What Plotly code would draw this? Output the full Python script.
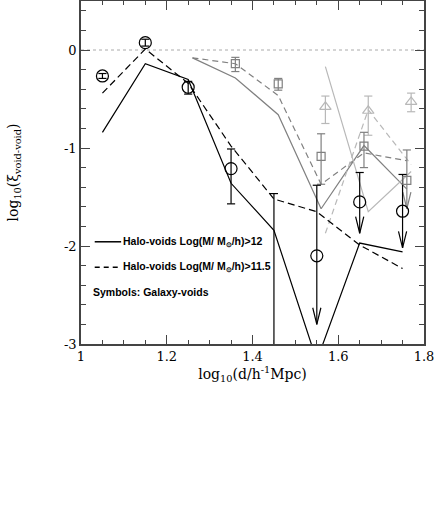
import plotly.graph_objects as go

# ---------------- data ----------------
x_halo = [1.05, 1.15, 1.25, 1.35, 1.45, 1.55, 1.65, 1.75]
halo_gt12 = [-0.84, -0.14, -0.30, -1.36, -1.84, -3.17, -1.97, -2.06]
halo_gt115 = [-0.44, 0.01, -0.34, -0.98, -1.52, -1.65, -1.99, -2.23]

x_gal = [1.05, 1.15, 1.25, 1.35, 1.45, 1.55, 1.65, 1.75]
gal = [-0.265, 0.075, -0.38, -1.21, None, -2.10, -1.55, -1.645]
gal_hi = [-0.24, 0.11, -0.32, -1.01, -1.465, -1.38, -1.25, -1.27]
gal_lo = [-0.29, 0.04, -0.45, -1.57, -3.5, -2.80, -1.87, -2.02]
gal_limit = [False, False, False, False, False, True, True, True]

x_grey = [1.26, 1.36, 1.46, 1.56, 1.66, 1.76]
grey_solid = [-0.08, -0.285, -0.66, -1.62, -0.975, -1.42]
grey_dash = [-0.08, -0.14, -0.465, -1.37, -1.05, -1.13]

x_sq = [1.36, 1.46, 1.56, 1.66, 1.76]
sq = [-0.14, -0.345, -1.085, -0.98, -1.33]
sq_hi = [-0.075, -0.29, -0.855, -0.84, -1.02]
sq_lo = [-0.22, -0.41, -1.37, -1.20, -1.62]
sq_limit = [False, False, False, False, True]

x_light = [1.57, 1.67, 1.77]
light_solid = [-0.17, -1.65, -1.24]
light_dash = [-1.87, -0.61, -1.17]

x_tri = [1.57, 1.67, 1.77]
tri = [-0.58, -0.62, -0.53]
tri_hi = [-0.47, -0.47, -0.44]
tri_lo = [-0.75, -0.87, -0.63]
tri_limit = [False, False, False]

xticks = [1.0, 1.2, 1.4, 1.6, 1.8]
xticklabels = ["1", "1.2", "1.4", "1.6", "1.8"]
yticks = [-3, -2, -1, 0]
yticklabels = ["-3", "-2", "-1", "0"]

# ---------------- style ----------------
BLACK = "#000000"
DARK = "#808080"
LIGHT = "#b8b8b8"
CAP = 0.0095      # half cap width (x units)
AHW = 0.0095      # arrow half width
AHH = 0.17        # arrow head height (y units)


def errbars(xs, hi, lo, limit):
    ex, ey = [], []
    for x, h, l, lim in zip(xs, hi, lo, limit):
        ex += [x, x, None, x - CAP, x + CAP, None]
        ey += [h, l, None, h, h, None]
        if lim:
            ex += [x - AHW, x, x + AHW, None]
            ey += [l + AHH, l, l + AHH, None]
        else:
            ex += [x - CAP, x + CAP, None]
            ey += [l, l, None]
    return ex, ey


fig = go.Figure()

# model lines
fig.add_trace(go.Scatter(x=x_grey, y=grey_solid, mode="lines",
                         line=dict(color=DARK, width=1.2)))
fig.add_trace(go.Scatter(x=x_grey, y=grey_dash, mode="lines",
                         line=dict(color=DARK, width=1.2, dash="6px,4px")))
fig.add_trace(go.Scatter(x=x_light, y=light_solid, mode="lines",
                         line=dict(color=LIGHT, width=1.2)))
fig.add_trace(go.Scatter(x=x_light, y=light_dash, mode="lines",
                         line=dict(color=LIGHT, width=1.2, dash="6px,4px")))
fig.add_trace(go.Scatter(x=x_halo, y=halo_gt12, mode="lines",
                         line=dict(color=BLACK, width=1.2)))
fig.add_trace(go.Scatter(x=x_halo, y=halo_gt115, mode="lines",
                         line=dict(color=BLACK, width=1.2, dash="7px,4px")))

# error bars
for xs, hi, lo, lim, col in [(x_tri, tri_hi, tri_lo, tri_limit, LIGHT),
                             (x_sq, sq_hi, sq_lo, sq_limit, DARK),
                             (x_gal, gal_hi, gal_lo, gal_limit, BLACK)]:
    ex, ey = errbars(xs, hi, lo, lim)
    fig.add_trace(go.Scatter(x=ex, y=ey, mode="lines",
                             line=dict(color=col, width=1.2)))

# symbols
fig.add_trace(go.Scatter(x=x_tri, y=tri, mode="markers",
                         marker=dict(symbol="triangle-up-open", size=10,
                                     color=LIGHT, line=dict(width=1.2))))
fig.add_trace(go.Scatter(x=x_sq, y=sq, mode="markers",
                         marker=dict(symbol="square-open", size=8,
                                     color=DARK, line=dict(width=1.2))))
fig.add_trace(go.Scatter(x=x_gal, y=gal, mode="markers",
                         marker=dict(symbol="circle-open", size=12,
                                     color=BLACK, line=dict(width=1.2))))

# dotted zero line
fig.add_shape(type="line", xref="paper", x0=0, x1=1, yref="y", y0=0, y1=0,
              line=dict(color="#aaaaaa", width=1, dash="dot"), layer="below")

# legend (drawn by hand)
LEG_FONT = dict(family="Liberation Sans, Arial, sans-serif", size=10.5, color="black")
fig.add_shape(type="line", xref="paper", yref="paper", x0=0.04, x1=0.117,
              y0=0.298, y1=0.298, line=dict(color="black", width=1.5))
fig.add_shape(type="line", xref="paper", yref="paper", x0=0.04, x1=0.117,
              y0=0.224, y1=0.224, line=dict(color="black", width=1.5, dash="5px,4px"))
fig.add_annotation(xref="paper", yref="paper", x=0.117, y=0.298, xanchor="left",
                   yanchor="middle", showarrow=False,
                   text="<b>Halo-voids Log(M/ M<sub>⊙</sub>/h)>12</b>", font=LEG_FONT)
fig.add_annotation(xref="paper", yref="paper", x=0.117, y=0.224, xanchor="left",
                   yanchor="middle", showarrow=False,
                   text="<b>Halo-voids Log(M/ M<sub>⊙</sub>/h)>11.5</b>", font=LEG_FONT)
fig.add_annotation(xref="paper", yref="paper", x=0.030, y=0.153, xanchor="left",
                   yanchor="middle", showarrow=False,
                   text="<b>Symbols: Galaxy-voids</b>", font=LEG_FONT)

SERIF = "DejaVu Serif, Liberation Serif, serif"
axis_common = dict(showline=True, linecolor="#444444", linewidth=1.5, mirror="ticks",
                   ticks="inside", tickcolor="#444444", tickwidth=1, ticklen=9,
                   showgrid=False, zeroline=False, automargin=False,
                   tickfont=dict(family=SERIF, size=13, color="black"))

fig.update_layout(
    width=436, height=520,
    margin=dict(l=81, r=12, t=1, b=176),
    paper_bgcolor="white", plot_bgcolor="white",
    showlegend=False,
    xaxis=dict(range=[1, 1.8], tickvals=xticks, ticktext=xticklabels,
               minor=dict(dtick=0.05, ticklen=4, ticks="inside", tickcolor="#444444"),
               title=dict(text="log<sub>10</sub>(d/h<sup>-1</sup>Mpc)",
                          font=dict(family=SERIF, size=14, color="black"), standoff=6),
               **axis_common),
    yaxis=dict(range=[-3, 0.5], tickvals=yticks, ticktext=yticklabels,
               minor=dict(dtick=0.2, ticklen=5, ticks="inside", tickcolor="#444444"),
               title=dict(text="log<sub>10</sub>(ξ<sub>void-void</sub>)",
                          font=dict(family=SERIF, size=14, color="black"), standoff=42),
               **axis_common),
)

fig.write_html("out.html",
               config={"displayModeBar": False},
               post_script="document.body.style.margin='0px';document.body.style.overflow='hidden';")
